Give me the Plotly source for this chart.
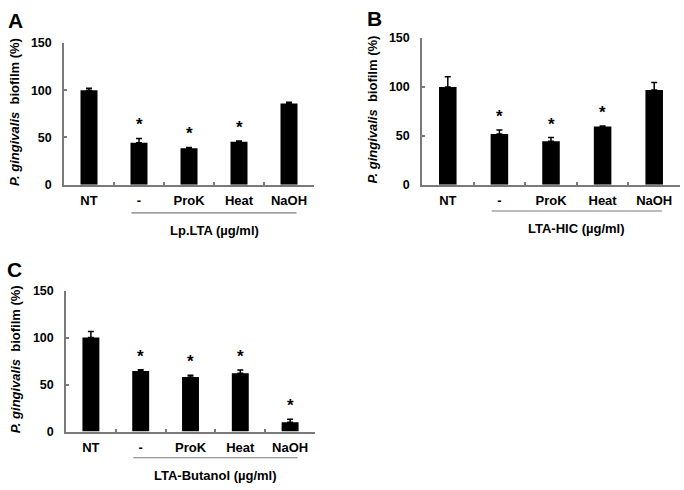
import plotly.graph_objects as go

W, H = 684, 490

categories = ["NT", "-", "ProK", "Heat", "NaOH"]

vals_a = [100, 44.5, 38.7, 45.5, 86]
errs_a = [2.2, 4.5, 0.8, 0.8, 1.4]
sig_a = [False, True, True, True, False]

vals_b = [100, 52, 44.5, 59.5, 97]
errs_b = [10.5, 4, 3.8, 0.6, 7.5]
sig_b = [False, True, True, True, False]

vals_c = [100, 64.5, 58, 62, 10]
errs_c = [6.5, 1.2, 2, 3.6, 3]
sig_c = [False, True, True, True, True]

group_labels = ["Lp.LTA (µg/ml)", "LTA-HIC (µg/ml)", "LTA-Butanol (µg/ml)"]
panel_letters = ["A", "B", "C"]
y_ticks = [0, 50, 100, 150]

FONT = "Liberation Sans, Arial, sans-serif"
AX_COL = "#7a7a7a"

# panel pixel boxes: (x_left, x_right, y_top(150), y_bottom(0))
boxes = [(64, 314, 37, 183), (422, 680, 32, 183), (66, 315, 292, 437)]
letter_pos = [(15, 14), (374, 12), (14, 270)]
ytitle_x = [15, 372, 15]
group_line_y = [212, 210, 464]
group_label_y = [230, 228, 482]


def px(x):
    return x / W


def py(y):
    return 1 - y / H


fig = go.Figure()
series = [(vals_a, errs_a, sig_a), (vals_b, errs_b, sig_b), (vals_c, errs_c, sig_c)]
annotations = []
shapes = []
for i, (vals, errs, sig) in enumerate(series):
    n = "" if i == 0 else str(i + 1)
    xl, xr, yt, yb = boxes[i]
    fig.add_trace(go.Bar(
        x=categories, y=vals, xaxis="x" + n, yaxis="y" + n,
        marker=dict(color="black", line=dict(width=0)),
        width=0.34,
        error_y=dict(type="data", array=errs, arrayminus=[0] * len(errs),
                     color="black", thickness=1.5, width=3),
        showlegend=False,
    ))
    common_x = dict(
        domain=[px(xl), px(xr)], type="category", range=[-0.5, 4.5],
        showline=True, linecolor=AX_COL, linewidth=1.5,
        ticks="inside", tickson="boundaries", ticklen=3, tickcolor=AX_COL, tickwidth=1.5,
        ticklabelstandoff=3,
        tickfont=dict(family=FONT, size=13, color="black", weight="bold"),
        showgrid=False, zeroline=False, anchor="y" + n, fixedrange=True,
    )
    common_y = dict(
        domain=[py(yb), py(yt)], range=[0, 150],
        tickvals=y_ticks,
        showline=True, linecolor=AX_COL, linewidth=1.5,
        ticks="inside", ticklen=3, tickcolor=AX_COL, tickwidth=1.5,
        ticklabelstandoff=8,
        tickfont=dict(family=FONT, size=12.5, color="black", weight="bold"),
        showgrid=False, zeroline=False, anchor="x" + n, fixedrange=True,
    )
    fig.update_layout(**{"xaxis" + n: common_x, "yaxis" + n: common_y})

    # significance stars
    for c, v, e, s in zip(categories, vals, errs, sig):
        if s:
            annotations.append(dict(
                x=c, y=v + e, xref="x" + n, yref="y" + n,
                text="<b>*</b>", showarrow=False, yanchor="bottom", yshift=2,
                font=dict(family=FONT, size=17, color="black"),
            ))
    # group line and label
    shapes.append(dict(
        type="line", xref="x" + n, yref="paper",
        x0=0.85, x1=4.15, y0=py(group_line_y[i]), y1=py(group_line_y[i]),
        line=dict(color=AX_COL, width=1.2),
    ))
    annotations.append(dict(
        x=2.5, y=py(group_label_y[i]), xref="x" + n, yref="paper",
        text="<b>" + group_labels[i] + "</b>", showarrow=False,
        xanchor="center", yanchor="middle",
        font=dict(family=FONT, size=13, color="black"),
    ))
    # y-axis title
    annotations.append(dict(
        x=px(ytitle_x[i]), y=py((yt + yb) / 2 - 2), xref="paper", yref="paper",
        text="<b><i>P. gingivalis</i>  biofilm (%)</b>", showarrow=False,
        textangle=-90, xanchor="center", yanchor="middle",
        font=dict(family=FONT, size=13, color="black"),
    ))
    # panel letter
    lx, ly = letter_pos[i]
    annotations.append(dict(
        x=px(lx), y=py(ly), xref="paper", yref="paper",
        text="<b>" + panel_letters[i] + "</b>", showarrow=False,
        xanchor="center", yanchor="middle",
        font=dict(family=FONT, size=21, color="black"),
    ))

fig.update_layout(
    width=W, height=H, margin=dict(l=0, r=0, t=0, b=0),
    paper_bgcolor="white", plot_bgcolor="white",
    bargap=0.66, annotations=annotations, shapes=shapes,
)

fig.write_html("out.html")
